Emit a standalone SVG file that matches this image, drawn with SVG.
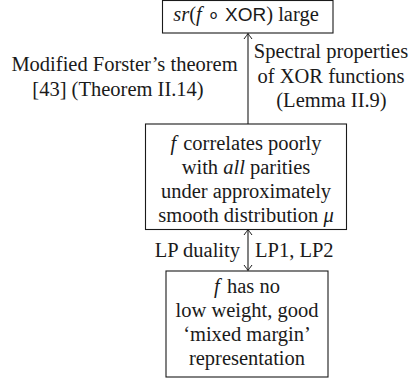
<svg xmlns="http://www.w3.org/2000/svg" width="414" height="381" viewBox="0 0 414 381">
  <style>
    .box { fill: #ffffff; stroke: #1a1a1a; stroke-width: 1.1; }
    .t { font-family: "Liberation Serif", "Times New Roman", serif; font-size: 20.5px; fill: #1a1a1a; }
    .c { text-anchor: middle; }
    .e { text-anchor: end; }
    .i { font-style: italic; }
    .sf { font-family: "Liberation Sans", Arial, sans-serif; font-size: 19px; }
    .edge { stroke: #1a1a1a; stroke-width: 1.1; fill: none; }
  </style>
  <defs>
    <!-- thin curved open arrow tip -->
    <marker id="tip" viewBox="-7 -5 9 10" markerWidth="9" markerHeight="10" refX="0" refY="0" orient="auto-start-reverse" markerUnits="userSpaceOnUse">
      <path d="M -5.5,-4 Q -1.5,-1 0,0 Q -1.5,1 -5.5,4" fill="none" stroke="#1a1a1a" stroke-width="1"/>
    </marker>
  </defs>

  <g id="connectors">
    <line class="edge" x1="248" y1="124" x2="248" y2="33.5" marker-end="url(#tip)"/>
    <line class="edge" x1="248" y1="229.5" x2="248" y2="270.5" marker-start="url(#tip)" marker-end="url(#tip)"/>
    <text class="t c" x="124.5" y="71">Modified Forster’s theorem</text>
    <text class="t c" x="118" y="95.5">[43] (Theorem II.14)</text>
    <text class="t c" x="331" y="58">Spectral properties</text>
    <text class="t c" x="331" y="82.5">of XOR functions</text>
    <text class="t c" x="331.5" y="107">(Lemma II.9)</text>
    <text class="t e" x="240" y="257">LP duality</text>
    <text class="t" x="255" y="257">LP1, LP2</text>
  </g>

  <g id="goal">
    <rect class="box" x="162.5" y="0.5" width="170.5" height="32.5"/>
    <text class="t c" x="246" y="21"><tspan class="i">sr</tspan>(<tspan class="i">f</tspan> ∘ <tspan class="sf">XOR</tspan>) large</text>
  </g>

  <g id="correlation">
    <rect class="box" x="145.5" y="124" width="201" height="105.5"/>
    <text class="t c" x="246" y="150"><tspan class="i">f</tspan><tspan dx="2"> correlates poorly</tspan></text>
    <text class="t c" x="246" y="174">with <tspan class="i">all</tspan> parities</text>
    <text class="t c" x="246" y="198">under approximately</text>
    <text class="t c" x="246" y="222">smooth distribution <tspan class="i">μ</tspan></text>
  </g>

  <g id="representation">
    <rect class="box" x="166" y="271" width="162" height="106"/>
    <text class="t c" x="247" y="293"><tspan class="i">f</tspan><tspan dx="2"> has no</tspan></text>
    <text class="t c" x="247" y="317">low weight, good</text>
    <text class="t c" x="247" y="341">‘mixed margin’</text>
    <text class="t c" x="247" y="364.5">representation</text>
  </g>
</svg>
